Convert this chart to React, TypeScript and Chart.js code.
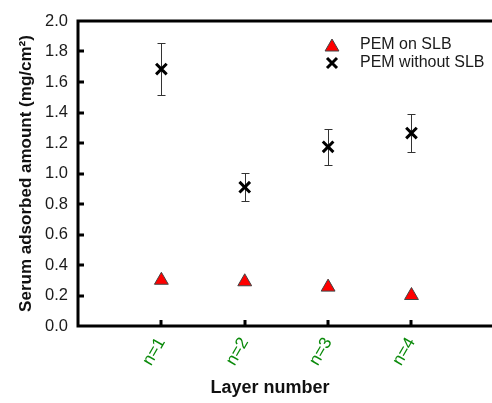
import React, { useEffect, useRef } from 'react';
import { Chart, registerables } from 'chart.js';

Chart.register(...registerables);

const categories = ['n=1', 'n=2', 'n=3', 'n=4'];
const pemOnSlb = [0.3, 0.29, 0.255, 0.2];
const pemWithoutSlb = [1.685, 0.91, 1.175, 1.265];
const pemWithoutSlbErr = [0.17, 0.093, 0.117, 0.127];
const yTickValues = [0, 0.2, 0.4, 0.6, 0.8, 1.0, 1.2, 1.4, 1.6, 1.8, 2.0];
const seriesNames = ['PEM on SLB', 'PEM without SLB'];
const xTitle = 'Layer number';
const yTitle = 'Serum adsorbed amount (mg/cm²)';

const FONT = "'Liberation Sans', Arial, sans-serif";

const framePlugin = {
  id: 'frame',
  beforeDatasetsDraw(chart: any) {
    const ctx = chart.ctx;
    const xs = chart.scales.x;
    const ys = chart.scales.y;
    ctx.save();
    ctx.strokeStyle = '#333';
    ctx.lineWidth = 1;
    pemWithoutSlb.forEach((v, i) => {
      const px = Math.round(xs.getPixelForValue(i + 1)) + 0.5;
      const top = Math.round(ys.getPixelForValue(v + pemWithoutSlbErr[i])) + 0.5;
      const bot = Math.round(ys.getPixelForValue(v - pemWithoutSlbErr[i])) + 0.5;
      ctx.beginPath();
      ctx.moveTo(px, top);
      ctx.lineTo(px, bot);
      ctx.moveTo(px - 4, top);
      ctx.lineTo(px + 4, top);
      ctx.moveTo(px - 4, bot);
      ctx.lineTo(px + 4, bot);
      ctx.stroke();
    });
    ctx.restore();
  },
  afterDraw(chart: any) {
    const ctx = chart.ctx;
    const { left, right, top, bottom } = chart.chartArea;
    const xs = chart.scales.x;
    const ys = chart.scales.y;
    const W = chart.width;
    ctx.save();
    ctx.strokeStyle = '#000';
    ctx.lineWidth = 3;
    ctx.lineCap = 'butt';
    // axes + top line
    ctx.beginPath();
    ctx.moveTo(left, top - 1.5);
    ctx.lineTo(left, bottom);
    ctx.moveTo(left - 1.5, bottom);
    ctx.lineTo(W, bottom);
    ctx.moveTo(left - 1.5, top);
    ctx.lineTo(W, top);
    ctx.stroke();
    // ticks (inward)
    ctx.lineWidth = 3;
    ctx.beginPath();
    yTickValues.forEach((v) => {
      if (v <= 0 || v >= 2) return;
      const py = Math.round(ys.getPixelForValue(v));
      ctx.moveTo(left, py);
      ctx.lineTo(left + 6, py);
    });
    categories.forEach((_, i) => {
      const px = Math.round(xs.getPixelForValue(i + 1));
      ctx.moveTo(px, bottom);
      ctx.lineTo(px, bottom - 6);
    });
    ctx.stroke();

    // legend
    const lx = 332;
    const ly1 = 45;
    const ly2 = 63;
    ctx.fillStyle = '#ff0000';
    ctx.strokeStyle = '#444';
    ctx.lineWidth = 1;
    const r = 8;
    ctx.beginPath();
    ctx.moveTo(lx, ly1 - r + 2);
    ctx.lineTo(lx + r * 0.866, ly1 + r / 2 + 2);
    ctx.lineTo(lx - r * 0.866, ly1 + r / 2 + 2);
    ctx.closePath();
    ctx.fill();
    ctx.stroke();
    ctx.strokeStyle = '#000';
    ctx.lineWidth = 3;
    const d = 5;
    ctx.beginPath();
    ctx.moveTo(lx - d, ly2 - d);
    ctx.lineTo(lx + d, ly2 + d);
    ctx.moveTo(lx - d, ly2 + d);
    ctx.lineTo(lx + d, ly2 - d);
    ctx.stroke();
    ctx.fillStyle = '#1a1a1a';
    ctx.font = `16px ${FONT}`;
    ctx.textAlign = 'left';
    ctx.textBaseline = 'middle';
    ctx.fillText(seriesNames[0], 360, ly1);
    ctx.fillText(seriesNames[1], 360, ly2);

    // x title
    ctx.font = `bold 18px ${FONT}`;
    ctx.textAlign = 'center';
    ctx.fillStyle = '#111';
    ctx.fillText(xTitle, 270, 388);
    ctx.restore();
  },
};

export default function App() {
  const canvasRef = useRef<HTMLCanvasElement | null>(null);

  useEffect(() => {
    if (!canvasRef.current) return;
    const chart = new Chart(canvasRef.current, {
      type: 'scatter',
      data: {
        datasets: [
          {
            label: seriesNames[0],
            data: pemOnSlb.map((v, i) => ({ x: i + 1, y: v })),
            pointStyle: 'triangle',
            pointRadius: 8,
            pointBackgroundColor: '#ff0000',
            pointBorderColor: '#444',
            pointBorderWidth: 1,
          },
          {
            label: seriesNames[1],
            data: pemWithoutSlb.map((v, i) => ({ x: i + 1, y: v })),
            pointStyle: 'crossRot',
            pointRadius: 7.5,
            pointBorderColor: '#000',
            pointBorderWidth: 3,
          },
        ],
      },
      options: {
        animation: false,
        responsive: false,
        layout: { padding: { top: 21, right: 0, left: 0, bottom: 0 } },
        plugins: {
          legend: { display: false },
          tooltip: { enabled: false },
        },
        scales: {
          x: {
            type: 'linear',
            min: 0,
            max: 4.84,
            grid: { display: false, drawTicks: false },
            border: { display: false },
            afterBuildTicks: (scale: any) => {
              scale.ticks = categories.map((_, i) => ({ value: i + 1 }));
            },
            afterFit: (scale: any) => {
              scale.height = 77;
            },
            ticks: {
              autoSkip: false,
              maxRotation: 60,
              minRotation: 60,
              padding: 8,
              color: '#0a8a0a',
              font: { family: FONT, size: 17 },
              callback: (v: any) => categories[Math.round(Number(v)) - 1] ?? '',
            },
          },
          y: {
            type: 'linear',
            min: 0,
            max: 2,
            grid: { display: false, drawTicks: false },
            border: { display: false },
            afterBuildTicks: (scale: any) => {
              scale.ticks = yTickValues.map((v) => ({ value: v }));
            },
            afterFit: (scale: any) => {
              scale.width = 78;
            },
            ticks: {
              padding: 10,
              color: '#1a1a1a',
              font: { family: FONT, size: 16.5 },
              callback: (v: any) => Number(v).toFixed(1),
            },
            title: {
              display: true,
              text: yTitle,
              color: '#111',
              font: { family: FONT, size: 17, weight: 'bold' },
              padding: { top: 16, bottom: 0 },
            },
          },
        },
      },
      plugins: [framePlugin],
    });
    return () => chart.destroy();
  }, []);

  return (
    <div style={{ position: 'absolute', left: 0, top: 0, width: 492, height: 403, background: '#fff' }}>
      <canvas ref={canvasRef} width={492} height={403} style={{ width: 492, height: 403, display: 'block' }} />
    </div>
  );
}
